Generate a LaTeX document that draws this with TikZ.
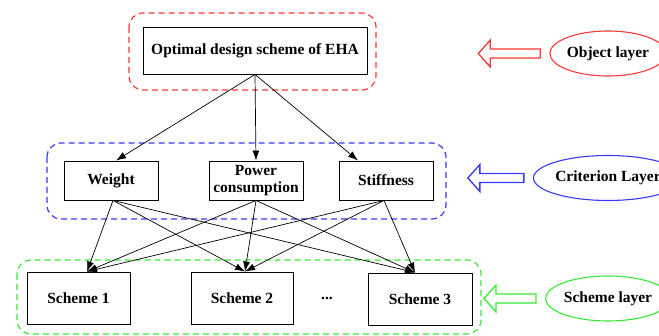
\documentclass[tikz,border=0pt]{standalone}
\usepackage{fontspec}
\setmainfont{Liberation Serif}
\usetikzlibrary{arrows.meta,positioning,shapes.geometric}
\definecolor{objred}{RGB}{255,56,56}
\definecolor{critblue}{RGB}{56,56,255}
\definecolor{schgreen}{RGB}{56,232,56}

\begin{document}
\begin{tikzpicture}[
x=1pt, y=-1pt,
font=\bfseries\fontsize{15.5}{17}\selectfont,
box/.style={draw, line width=0.9pt, inner sep=0pt, align=center},
layerbox/.style={dashed, dash pattern=on 6pt off 4pt, line width=1.2pt, rounded corners=14pt},
link/.style={-{Latex[length=10pt,width=7pt]}, line width=0.7pt},
tag/.style={ellipse, draw, line width=1.1pt, minimum width=112pt, minimum height=45pt, inner sep=0pt},
bigarrow/.style={line width=1.3pt, line join=miter}
]
    \useasboundingbox (0,0) rectangle (659,336);

    % dashed layer frames
    \draw[layerbox, objred] (129,13) rectangle (376,90);
    \draw[layerbox, critblue] (47,143) rectangle (446,219);
    \draw[layerbox, schgreen] (17,260) rectangle (481,334);

    % object layer
    \node[box, minimum width=224pt, minimum height=47pt] (goal) at (255,50.5) {Optimal design scheme of EHA};

    % criterion layer
    \node[box, minimum width=94pt, minimum height=39pt] (weight) at (111,180.5) {Weight};
    \node[box, minimum width=94pt, minimum height=39pt] (power) at (256,180.5) {Power\\consumption};
    \node[box, minimum width=94pt, minimum height=39pt] (stiff) at (386,180.5) {Stiffness};

    % scheme layer
    \node[box, minimum width=103pt, minimum height=52pt] (scheme1) at (78.5,298) {Scheme 1};
    \node[box, minimum width=102pt, minimum height=52pt] (scheme2) at (242,298) {Scheme 2};
    \node[box, minimum width=104pt, minimum height=52pt] (scheme3) at (420,299) {Scheme 3};
    \node[anchor=base] (dots) at (327,300) {...};

    \draw[link] (goal.south) -- ([xshift=5pt]weight.north);
    \draw[link] (goal.south) -- (power.north);
    \draw[link] (goal.south) -- ([xshift=-28pt]stiff.north);

    \coordinate (w-out) at ([xshift=2pt]weight.south);
    \coordinate (p-out) at (power.south);
    \coordinate (s-out) at ([xshift=-2pt]stiff.south);
    \coordinate (in1) at ([xshift=8.5pt]scheme1.north);
    \coordinate (in2) at ([xshift=3pt]scheme2.north);
    \coordinate (in3) at ([xshift=-5pt]scheme3.north);
    \foreach \src in {w,p,s}
        \foreach \dst in {1,2,3}
            \draw[link] (\src-out) -- (in\dst);

    % layer names
    \node[tag, draw=objred] (objtag) at (608,53.5) {Object layer};
    \node[tag, draw=critblue] (crittag) at (608,178) {Criterion Layer};
    \node[tag, draw=schgreen] (schtag) at (608,298.5) {Scheme layer};

    \foreach \t/\c/\l in {objtag/objred/50, crittag/critblue/44, schtag/schgreen/40}
        \draw[bigarrow, \c] ([xshift=-9pt]\t.west) ++(0,-4.5) -- ++(-\l,0) -- ++(0,-9)
            -- ++(-12,13.5) -- ++(12,13.5) -- ++(0,-9) -- ++(\l,0) -- cycle;

\end{tikzpicture}
\end{document}
